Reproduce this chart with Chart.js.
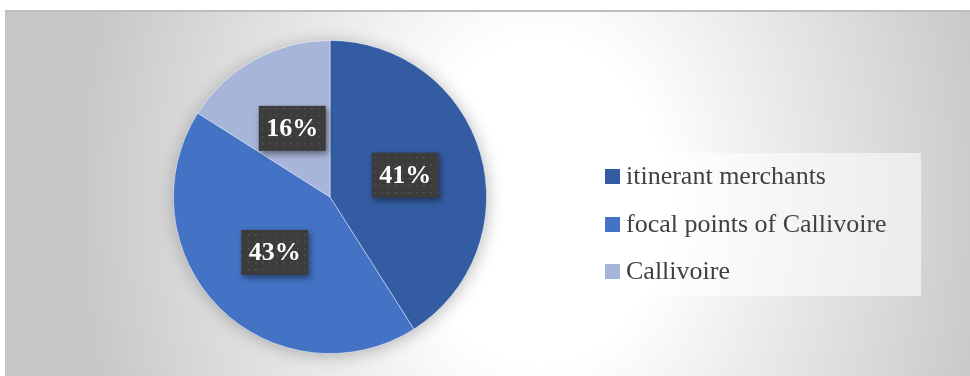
<!DOCTYPE html>
<html>
<head>
<meta charset="utf-8">
<script src="https://cdn.jsdelivr.net/npm/chart.js@4/dist/chart.umd.min.js"></script>
<style>
  html, body { margin: 0; padding: 0; background: #fff; }
  #frame {
    position: absolute; left: 5px; top: 10px; width: 970px; height: 380px;
    border-top: 2px solid #bdbdbd;
    background: radial-gradient(ellipse 470px 620px at 535px 190px, #ffffff 0%, #ffffff 26%, #e6e6e6 58%, #c6c6c6 100%);
  }
  #wrap { position: absolute; left: 0; top: 0; width: 970px; height: 376px; }
  #legend {
    position: absolute; left: 568px; top: 153px; width: 353px; height: 143px;
    background: rgba(255,255,255,0.55);
    font-family: "Liberation Serif", "DejaVu Serif", serif; font-size: 26px; color: #404040;
  }
  .item { position: absolute; left: 37px; height: 26px; line-height: 26px; white-space: nowrap; }
  .item span.sw { display: inline-block; width: 15px; height: 15px; margin-right: 6px; vertical-align: 0px; }
</style>
</head>
<body>
<div id="frame"></div>
<div id="wrap"><canvas id="pie" width="970" height="376"></canvas></div>
<div id="legend"></div>
<script>
const labels = ["itinerant merchants", "focal points of Callivoire", "Callivoire"];
const shares = [41, 43, 16];
const colors = ["#335CA3", "#4472C4", "#A7B5DA"];

// legend rows
const legendEl = document.getElementById("legend");
labels.forEach((name, i) => {
  const row = document.createElement("div");
  row.className = "item";
  row.style.top = (10 + i * 47.5) + "px";
  row.innerHTML = `<span class="sw" style="background:${colors[i]}"></span>${name}`;
  legendEl.appendChild(row);
});

// soft shadow under the whole pie
const pieShadow = {
  id: "pieShadow",
  beforeDatasetsDraw(chart) {
    const arc = chart.getDatasetMeta(0).data[0];
    if (!arc) return;
    const ctx = chart.ctx;
    ctx.save();
    ctx.shadowColor = "rgba(0,0,0,0.3)";
    ctx.shadowBlur = 18;
    ctx.shadowOffsetX = 1;
    ctx.shadowOffsetY = 2;
    ctx.fillStyle = colors[1];
    ctx.beginPath();
    ctx.arc(arc.x, arc.y, arc.outerRadius - 1, 0, Math.PI * 2);
    ctx.fill();
    ctx.restore();
  }
};

// dark dotted boxes with the percentage
function dotPattern(ctx) {
  const c = document.createElement("canvas");
  c.width = 7; c.height = 7;
  const p = c.getContext("2d");
  p.fillStyle = "#3c3c3c";
  p.fillRect(0, 0, 7, 7);
  p.fillStyle = "#555555";
  p.fillRect(3, 3, 1.5, 1.5);
  return ctx.createPattern(c, "repeat");
}

const boxLabels = {
  id: "boxLabels",
  afterDatasetsDraw(chart) {
    const ctx = chart.ctx;
    const meta = chart.getDatasetMeta(0);
    const pattern = dotPattern(ctx);
    ctx.save();
    ctx.font = "bold 26px 'Liberation Serif', 'DejaVu Serif', serif";
    ctx.textAlign = "center";
    ctx.textBaseline = "middle";
    meta.data.forEach((arc, i) => {
      const pos = arc.tooltipPosition();
      const text = shares[i] + "%";
      const w = 67, h = 45;
      ctx.save();
      ctx.shadowColor = "rgba(0,0,0,0.45)";
      ctx.shadowBlur = 6;
      ctx.shadowOffsetX = 2;
      ctx.shadowOffsetY = 3;
      ctx.fillStyle = pattern;
      ctx.fillRect(pos.x - w / 2, pos.y - h / 2, w, h);
      ctx.restore();
      ctx.fillStyle = "#ffffff";
      ctx.fillText(text, pos.x, pos.y + 1);
    });
    ctx.restore();
  }
};

new Chart(document.getElementById("pie"), {
  type: "pie",
  data: {
    labels: labels,
    datasets: [{
      data: shares,
      backgroundColor: colors,
      borderColor: "rgba(255,255,255,0.6)",
      borderWidth: 0.8
    }]
  },
  options: {
    responsive: false,
    animation: false,
    layout: { padding: { left: 173, right: 483, top: 40, bottom: 22 } },
    plugins: {
      legend: { display: false },
      tooltip: { enabled: false }
    }
  },
  plugins: [pieShadow, boxLabels]
});
</script>
</body>
</html>
